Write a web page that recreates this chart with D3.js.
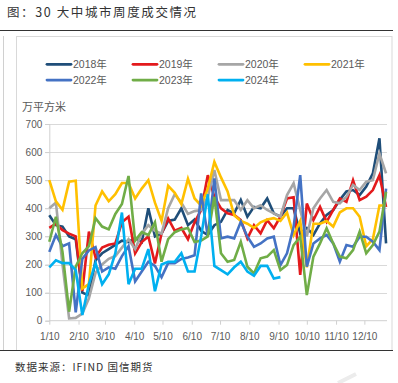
<!DOCTYPE html>
<html><head><meta charset="utf-8">
<script src="https://cdn.jsdelivr.net/npm/d3@7/dist/d3.min.js"></script>
<style>
body{margin:0;background:#fff;}
svg{display:block;}
text{font-family:"Liberation Sans",Arial,"Noto Sans CJK SC",sans-serif;}
.cjk{font-family:"Noto Sans CJK SC",sans-serif;}
.narrow{font-family:"Liberation Sans Narrow","Liberation Sans","Noto Sans CJK SC",sans-serif;}
</style></head>
<body><svg id="c" width="398" height="383"></svg>
<script>
const title = "图：30 大中城市周度成交情况";
const source = "数据来源：IFIND 国信期货";
const yUnit = "万平方米";
const years = ["2018年","2019年","2020年","2021年","2022年","2023年","2024年"];
const yTicks = [0,100,200,300,400,500,600,700];
const monthTicks = ["1/10","2/10","3/10","4/10","5/10","6/10","7/10","8/10","9/10","10/10","11/10","12/10"];

const s2018 = [375,340,335,300,290,100,90,215,240,255,270,285,280,295,280,400,300,310,355,360,400,340,360,320,305,340,352,394,382,430,370,405,400,435,382,370,400,400,310,330,305,346,376,394,430,460,465,447,477,524,649,275];
const s2019 = [330,345,322,310,300,105,317,225,260,270,275,350,370,240,280,300,204,310,364,320,330,290,350,394,518,441,400,382,376,358,293,340,311,358,329,370,435,439,163,417,358,405,352,394,435,423,500,429,441,465,518,405];
const s2020 = [400,420,200,8,10,25,80,170,200,220,230,260,290,255,310,340,320,310,400,450,420,380,390,394,441,536,429,429,429,394,429,400,411,394,382,370,447,489,394,300,400,435,465,423,418,441,483,465,495,500,595,524];
const s2021 = [500,425,395,495,498,115,130,410,460,425,450,490,490,435,470,500,420,355,480,455,415,505,435,410,470,565,510,460,375,355,345,330,350,360,365,355,385,305,355,190,345,345,355,335,385,400,400,370,265,290,410,410];
const s2022 = [245,305,265,275,30,220,250,262,175,190,185,230,265,140,175,210,195,155,205,205,220,225,233,453,300,506,293,299,293,352,299,263,275,293,299,198,240,334,518,192,275,293,305,275,210,269,263,299,299,281,251,470];
const s2023 = [281,370,245,32,192,240,265,365,335,325,380,415,515,285,315,305,350,210,290,315,325,330,280,285,300,441,240,210,216,281,192,168,222,228,251,180,198,269,299,91,228,275,329,275,228,222,251,317,240,269,317,459];
const s2024 = [190,215,205,205,180,20,130,205,130,165,240,385,130,185,185,255,105,200,210,210,240,175,175,300,450,195,180,165,190,210,175,160,195,195,150,155];

const series = [s2018,s2019,s2020,s2021,s2022,s2023,s2024];
const colors = ["#1F4E79","#E31A1C","#A6A6A6","#FFC000","#4472C4","#70AD47","#00B0F0"];

const svg = d3.select("#c");
const gray = "#595959";

// frame elements
svg.append("text").attr("class","cjk").attr("x",7).attr("y",17).attr("font-size",12.5)
  .attr("letter-spacing",1.6).attr("fill","#333").text(title);
svg.append("line").attr("x1",0).attr("x2",393).attr("y1",30.5).attr("y2",30.5).attr("stroke","#333").attr("stroke-width",1);
svg.append("line").attr("x1",3.5).attr("x2",3.5).attr("y1",36).attr("y2",350).attr("stroke","#d0d0d0");
svg.append("rect").attr("x",16.5).attr("y",36.5).attr("width",375.5).attr("height",314).attr("fill","none").attr("stroke","#d9d9d9");
svg.append("line").attr("x1",0).attr("x2",393).attr("y1",350.5).attr("y2",350.5).attr("stroke","#333").attr("stroke-width",1);
svg.append("text").attr("class","cjk").attr("x",15).attr("y",371).attr("font-size",10.5)
  .attr("letter-spacing",1).attr("fill","#333").text(source);
svg.append("path").attr("d","M338,383 L356,374").attr("stroke","#ececec").attr("stroke-width",4);

// scales
const t0 = new Date(2019,0,10);
const x = d3.scaleTime().domain([t0, new Date(2020,0,3)]).range([49.3, 387]);
const y = d3.scaleLinear().domain([0,700]).range([320.7,124]);
const weekDate = i => d3.timeDay.offset(t0, 7*i);
const monthDates = monthTicks.map((s,i) => new Date(2019,i,10));

// gridlines
svg.append("g").selectAll("line").data(yTicks.filter(v=>v>0)).join("line")
  .attr("x1",45).attr("x2",387).attr("y1",d=>Math.round(y(d))+0.5).attr("y2",d=>Math.round(y(d))+0.5)
  .attr("stroke","#d9d9d9").attr("stroke-width",1.2);

// y axis
const ya = svg.append("g").attr("transform","translate(49.3,0)")
  .call(d3.axisLeft(y).tickValues(yTicks).tickSize(4).tickPadding(3));
ya.select(".domain").attr("stroke","#d0d0d0");
ya.selectAll(".tick line").attr("stroke","#d0d0d0");
ya.selectAll("text").attr("fill",gray).attr("font-size",10).attr("font-family","Liberation Sans, Arial");

// x axis
const xa = svg.append("g").attr("transform",`translate(0,${y(0)})`)
  .call(d3.axisBottom(x).tickValues(monthDates).tickFormat((d,i)=>monthTicks[i]).tickSize(4).tickPadding(8).tickSizeOuter(0));
xa.select(".domain").attr("stroke","#d0d0d0").attr("d","M49.3,0H387");
xa.selectAll(".tick line").attr("stroke","#d0d0d0");
xa.selectAll("text").attr("fill",gray).attr("font-size",10).attr("font-family","Liberation Sans, Arial");

// unit label
svg.append("text").attr("class","cjk").attr("x",22).attr("y",111).attr("font-size",11).attr("fill",gray).text(yUnit);

// lines
const line = d3.line().x((d,i)=>x(weekDate(i))).y(d=>y(d));
svg.append("g").selectAll("path").data(series).join("path")
  .attr("d",line).attr("fill","none").attr("stroke",(d,i)=>colors[i])
  .attr("stroke-width",2.6).attr("stroke-linejoin","miter");

// legend
const lg = svg.append("g");
years.forEach((yr,i)=>{
  const col = i%4, row = Math.floor(i/4);
  const lx = 47 + col*86, ly = 64.3 + row*15.8;
  lg.append("line").attr("x1",lx).attr("x2",lx+24).attr("y1",ly).attr("y2",ly)
    .attr("stroke",colors[i]).attr("stroke-width",2.8).attr("stroke-linecap","round");
  lg.append("text").attr("class","narrow").attr("x",lx+26).attr("y",ly+4).attr("font-size",10.5).attr("fill",gray).text(yr);
});
</script></body></html>
